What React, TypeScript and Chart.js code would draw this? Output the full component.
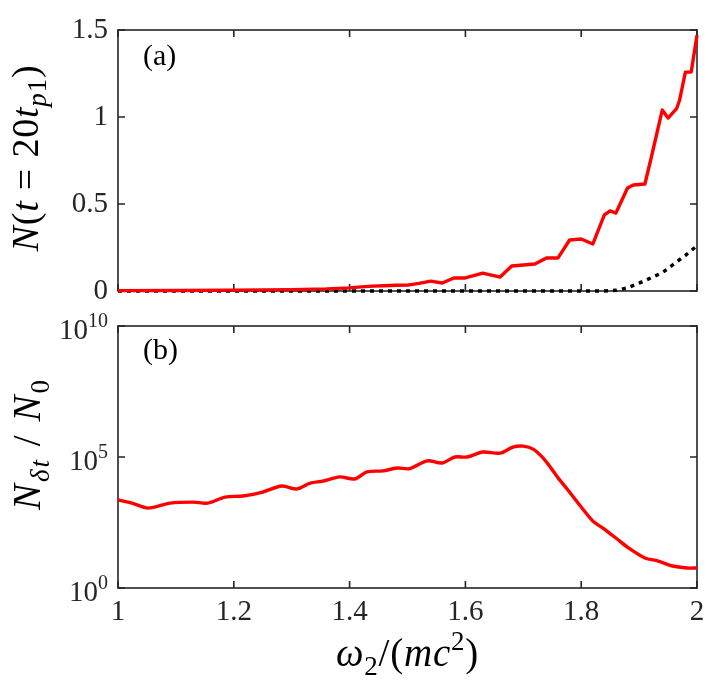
import React, { useEffect, useRef } from "react";
import { Chart, registerables } from "chart.js";

Chart.register(...registerables);

const FONT = "'Liberation Serif', 'Times New Roman', serif";
const INK = "#262626";
const RED = "#ff0000";

// ---- tick labels ----
const xTicks = [1, 1.2, 1.4, 1.6, 1.8, 2];
const topYTicks = [0, 0.5, 1, 1.5];
const logTicks = [1, 1e5, 1e10];
const logTickExps = ["0", "5", "10"];

// ---- panel (a): N(t = 20 t_p1) ----
const topRedX = [
  1.0, 1.1, 1.2, 1.3, 1.36, 1.4, 1.42, 1.44, 1.46, 1.48, 1.5, 1.52, 1.54, 1.56, 1.58, 1.6, 1.63, 1.66, 1.68,
  1.72, 1.74, 1.76, 1.78, 1.8, 1.82, 1.84, 1.85, 1.86, 1.88, 1.89, 1.91, 1.92, 1.94, 1.95, 1.965, 1.97, 1.98,
  1.99, 2.0,
];
const topRedY = [
  0.002, 0.003, 0.005, 0.008, 0.012, 0.018, 0.024, 0.028, 0.03, 0.033, 0.034, 0.044, 0.057, 0.046, 0.075, 0.075,
  0.103, 0.08, 0.144, 0.155, 0.19, 0.19, 0.293, 0.299, 0.27, 0.437, 0.46, 0.448, 0.592, 0.609, 0.615, 0.753, 1.04,
  0.994, 1.05, 1.098, 1.258, 1.258, 1.47,
];
const topBlackX = [1.0, 1.84, 1.86, 1.88, 1.9, 1.92, 1.94, 1.96, 1.98, 2.0];
const topBlackY = [0, 0, 0.004, 0.018, 0.045, 0.075, 0.105, 0.155, 0.205, 0.26];

// ---- panel (b): N_dt / N_0 ----
const botX = [
  1.0, 1.024, 1.052, 1.09, 1.13, 1.155, 1.185, 1.216, 1.25, 1.283, 1.309, 1.332, 1.354, 1.383, 1.409, 1.43, 1.458,
  1.482, 1.504, 1.534, 1.56, 1.582, 1.603, 1.63, 1.66, 1.682, 1.7, 1.717, 1.737, 1.76, 1.777, 1.8, 1.82, 1.84,
  1.862, 1.88, 1.91, 1.933, 1.958, 1.983, 2.0,
];
const botY = [
  2.3e3, 1.74e3, 1.12e3, 1.74e3, 1.9e3, 1.74e3, 2.95e3, 3.24e3, 4.6e3, 7.8e3, 6.0e3, 1.0e4, 1.2e4, 1.74e4, 1.45e4,
  2.7e4, 2.95e4, 3.8e4, 3.6e4, 7.1e4, 5.9e4, 1.0e5, 1.0e5, 1.55e5, 1.4e5, 2.4e5, 2.6e5, 2.0e5, 7.8e4, 1.6e4, 5.5e3,
  1.23e3, 363, 178, 74, 36, 14, 10.7, 6.9, 5.8, 5.8,
];

type Seg = { t: string; it?: boolean; sub?: boolean; sup?: boolean };

const TOP_YLABEL: Seg[] = [
  { t: "N", it: true },
  { t: "(" },
  { t: "t", it: true },
  { t: " = " },
  { t: "20" },
  { t: "t", it: true },
  { t: "p", it: true, sub: true },
  { t: "1", sub: true },
  { t: ")" },
];
const BOT_YLABEL: Seg[] = [
  { t: "N", it: true },
  { t: "δt", it: true, sub: true },
  { t: " / " },
  { t: "N", it: true },
  { t: "0", sub: true },
];
const XLABEL: Seg[] = [
  { t: "ω", it: true },
  { t: "2", sub: true },
  { t: "/" },
  { t: "(" },
  { t: "m", it: true },
  { t: "c", it: true },
  { t: "2", sup: true },
  { t: ")" },
];

function drawRich(
  ctx: CanvasRenderingContext2D,
  segs: Seg[],
  x: number,
  baseline: number,
  size: number,
  align: "left" | "center" | "right",
  spacing = 0
) {
  const parts = segs.map((s) => {
    const fs = s.sub || s.sup ? Math.round(size * 0.7) : size;
    const font = `${s.it ? "italic " : ""}${fs}px ${FONT}`;
    ctx.font = font;
    return { s, font, w: ctx.measureText(s.t).width + spacing * s.t.length };
  });
  const total = parts.reduce((a, p) => a + p.w, 0);
  let cx = align === "center" ? x - total / 2 : align === "right" ? x - total : x;
  ctx.textAlign = "left";
  ctx.textBaseline = "alphabetic";
  for (const p of parts) {
    ctx.font = p.font;
    const dy = p.s.sub ? size * 0.22 : p.s.sup ? -size * 0.4 : 0;
    if (spacing) {
      let lx = cx;
      for (const ch of p.s.t) {
        ctx.fillText(ch, lx, baseline + dy);
        lx += ctx.measureText(ch).width + spacing;
      }
    } else {
      ctx.fillText(p.s.t, cx, baseline + dy);
    }
    cx += p.w;
  }
}

function framePlugin(yTicks: number[]) {
  return {
    id: "frame",
    beforeDatasetsDraw(chart: any) {
      const { ctx, chartArea } = chart;
      const { left, right, top, bottom } = chartArea;
      const xs = chart.scales.x;
      const ys = chart.scales.y;
      const tl = 7;
      ctx.save();
      ctx.strokeStyle = INK;
      ctx.lineWidth = 1.6;
      ctx.strokeRect(left, top, right - left, bottom - top);
      ctx.beginPath();
      for (const v of xTicks) {
        const px = xs.getPixelForValue(v);
        ctx.moveTo(px, bottom);
        ctx.lineTo(px, bottom - tl);
        ctx.moveTo(px, top);
        ctx.lineTo(px, top + tl);
      }
      for (const v of yTicks) {
        const py = ys.getPixelForValue(v);
        ctx.moveTo(left, py);
        ctx.lineTo(left + tl, py);
        ctx.moveTo(right, py);
        ctx.lineTo(right - tl, py);
      }
      ctx.stroke();
      ctx.restore();
    },
  };
}

const topLabelsPlugin = {
  id: "topLabels",
  afterDraw(chart: any) {
    const { ctx, chartArea } = chart;
    ctx.save();
    ctx.fillStyle = "#000";
    drawRich(ctx, [{ t: "(a)" }], chartArea.left + 25, chartArea.top + 35, 30, "left");
    ctx.translate(38, 158);
    ctx.rotate(-Math.PI / 2);
    drawRich(ctx, TOP_YLABEL, 0, 0, 38, "center", 0.8);
    ctx.restore();
  },
};

const bottomLabelsPlugin = {
  id: "bottomLabels",
  afterDraw(chart: any) {
    const { ctx, chartArea } = chart;
    const ys = chart.scales.y;
    ctx.save();
    ctx.fillStyle = INK;
    logTicks.forEach((v, i) => {
      const py = ys.getPixelForValue(v);
      drawRich(ctx, [{ t: "10" }, { t: logTickExps[i], sup: true }], chartArea.left - 10, py + 13, 29, "right");
    });
    ctx.fillStyle = "#000";
    drawRich(ctx, [{ t: "(b)" }], chartArea.left + 25, chartArea.top + 33, 30, "left");
    drawRich(ctx, XLABEL, (chartArea.left + chartArea.right) / 2, chartArea.bottom + 78, 39, "center", 0.8);
    ctx.translate(40, 134);
    ctx.rotate(-Math.PI / 2);
    drawRich(ctx, BOT_YLABEL, 0, 0, 39, "center", 2);
    ctx.restore();
  },
};

function pts(xs: number[], ys: number[]) {
  return xs.map((x, i) => ({ x, y: ys[i] }));
}

export default function App() {
  const topRef = useRef<HTMLCanvasElement>(null);
  const botRef = useRef<HTMLCanvasElement>(null);

  useEffect(() => {
    const top = new Chart(topRef.current as HTMLCanvasElement, {
      type: "line",
      data: {
        datasets: [
          {
            data: pts(topRedX, topRedY),
            borderColor: RED,
            borderWidth: 3.4,
            pointRadius: 0,
            tension: 0,
            borderJoinStyle: "round",
            clip: 6,
          },
          {
            data: pts(topBlackX, topBlackY),
            borderColor: "#000",
            borderWidth: 3.4,
            borderDash: [4, 5],
            pointRadius: 0,
            tension: 0,
            clip: 6,
          },
        ],
      },
      options: {
        responsive: false,
        animation: false,
        events: [],
        layout: { padding: { left: 0, right: 22, top: 30, bottom: 19 } },
        plugins: { legend: { display: false }, tooltip: { enabled: false } },
        scales: {
          x: { type: "linear", min: 1, max: 2, display: false },
          y: {
            type: "linear",
            min: 0,
            max: 1.5,
            grid: { display: false, drawTicks: true, tickLength: 10 },
            border: { display: false },
            afterBuildTicks: (s: any) => {
              s.ticks = topYTicks.map((v) => ({ value: v }));
            },
            afterFit: (s: any) => {
              s.width = 118;
            },
            ticks: {
              padding: 0,
              color: INK,
              font: { family: FONT, size: 29 },
              callback: (v: any) => String(v),
            },
          },
        },
      } as any,
      plugins: [framePlugin(topYTicks), topLabelsPlugin],
    });

    const bot = new Chart(botRef.current as HTMLCanvasElement, {
      type: "line",
      data: {
        datasets: [
          {
            data: pts(botX, botY),
            borderColor: RED,
            borderWidth: 3.4,
            pointRadius: 0,
            tension: 0.3,
            borderJoinStyle: "round",
            clip: 6,
          },
        ],
      },
      options: {
        responsive: false,
        animation: false,
        events: [],
        layout: { padding: { left: 0, right: 22, top: 16, bottom: 0 } },
        plugins: { legend: { display: false }, tooltip: { enabled: false } },
        scales: {
          x: {
            type: "linear",
            min: 1,
            max: 2,
            grid: { display: false, drawTicks: false },
            border: { display: false },
            afterBuildTicks: (s: any) => {
              s.ticks = xTicks.map((v) => ({ value: v }));
            },
            afterFit: (s: any) => {
              s.height = 95;
            },
            ticks: {
              padding: 7,
              color: INK,
              maxRotation: 0,
              autoSkip: false,
              font: { family: FONT, size: 29 },
              callback: (v: any) => String(v),
            },
          },
          y: {
            type: "logarithmic",
            min: 1,
            max: 1e10,
            grid: { display: false, drawTicks: false },
            border: { display: false },
            afterBuildTicks: (s: any) => {
              s.ticks = logTicks.map((v) => ({ value: v }));
            },
            afterFit: (s: any) => {
              s.width = 118;
            },
            ticks: { display: false },
          },
        },
      } as any,
      plugins: [framePlugin(logTicks), bottomLabelsPlugin],
    });

    return () => {
      top.destroy();
      bot.destroy();
    };
  }, []);

  return (
    <div style={{ position: "absolute", left: 0, top: 0, width: 719, height: 683, background: "#fff" }}>
      <canvas
        ref={topRef}
        width={719}
        height={310}
        style={{ position: "absolute", left: 0, top: 0, width: 719, height: 310, display: "block" }}
      />
      <canvas
        ref={botRef}
        width={719}
        height={373}
        style={{ position: "absolute", left: 0, top: 310, width: 719, height: 373, display: "block" }}
      />
    </div>
  );
}
